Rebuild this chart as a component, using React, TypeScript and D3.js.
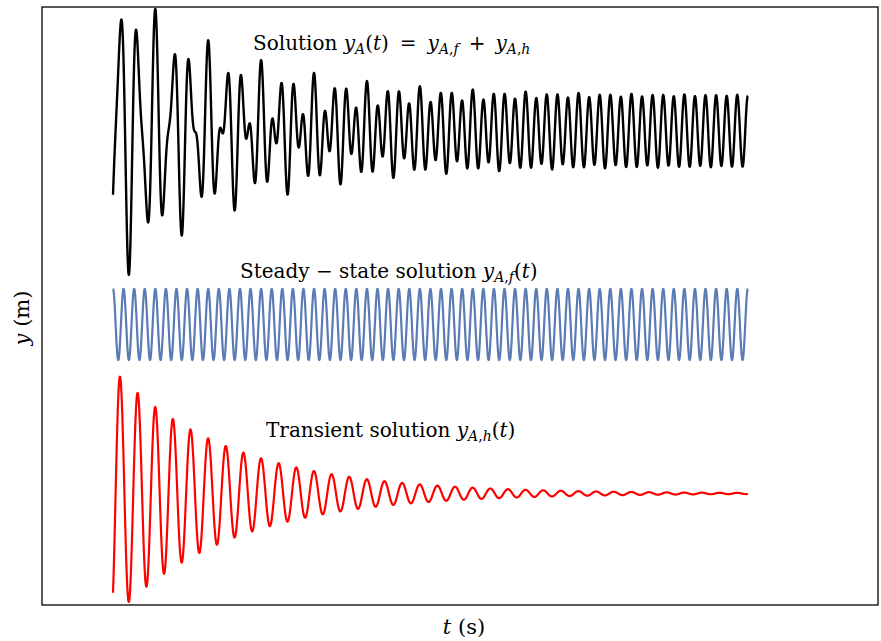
import React from "react";
import * as d3 from "d3";

// ---- data ----
const timeRange = [0, 60]; // s
const forcedAmplitude = [1.0]; // steady-state amplitude (m)
const forcedFrequency = [1.0]; // Hz, 60 cycles over the window
const forcedPhase = [0];
const transientAmplitude = [3.49];
const transientFrequency = [0.6]; // Hz, damped natural frequency
const transientDecay = [0.09]; // 1/s
const transientPhase = [2.5]; // rad
const curveOffsets = [5.45, 0, -4.76]; // vertical offsets: total, steady, transient
const xDomain = [-6.71, 72.3];
const yDomain = [-7.9, 8.94];

const W = 881;
const H = 641;
const plot = { left: 42, top: 7, right: 878, bottom: 605 };

const tSamples = d3.range(timeRange[0], timeRange[1] + 1e-9, 0.005);

function steady(t: number) {
  return forcedAmplitude[0] * Math.cos(2 * Math.PI * forcedFrequency[0] * t - forcedPhase[0]);
}
function transient(t: number) {
  return (
    transientAmplitude[0] *
    Math.exp(-transientDecay[0] * t) *
    Math.cos(2 * Math.PI * transientFrequency[0] * t - transientPhase[0])
  );
}

export default function App() {
  const x = d3.scaleLinear().domain(xDomain).range([plot.left, plot.right]);
  const y = d3.scaleLinear().domain(yDomain).range([plot.bottom, plot.top]);

  const mk = (f: (t: number) => number, off: number) =>
    d3
      .line<number>()
      .x((t) => x(t))
      .y((t) => y(f(t) + off))(tSamples) as string;

  const totalPath = mk((t) => steady(t) + transient(t), curveOffsets[0]);
  const steadyPath = mk(steady, curveOffsets[1]);
  const transientPath = mk(transient, curveOffsets[2]);

  const font = "'DejaVu Serif', 'Liberation Serif', serif";
  const fs = 20;
  const sub = 14;

  return (
    <svg
      width={W}
      height={H}
      style={{ position: "absolute", left: 0, top: 0, background: "#fff" }}
      fontFamily={font}
    >
      <rect x={0} y={0} width={W} height={H} fill="#fff" />
      <path d={steadyPath} fill="none" stroke="#5a7bb5" strokeWidth={2.2} />
      <path d={transientPath} fill="none" stroke="#ff0000" strokeWidth={2.2} />
      <path d={totalPath} fill="none" stroke="#000" strokeWidth={2.4} />
      <rect
        x={plot.left}
        y={plot.top}
        width={plot.right - plot.left}
        height={plot.bottom - plot.top}
        fill="none"
        stroke="#000"
        strokeWidth={1.3}
      />
      {/* Labels */}
      <text x={253} y={50} fontSize={fs} fill="#000">
        Solution{" "}
        <tspan fontStyle="italic">y</tspan>
        <tspan fontStyle="italic" fontSize={sub} dy={4}>A</tspan>
        <tspan dy={-4}>(</tspan>
        <tspan fontStyle="italic">t</tspan>
        <tspan>)</tspan>
        <tspan dx={11}>=</tspan>
        <tspan fontStyle="italic" dx={11}>y</tspan>
        <tspan fontSize={sub} dy={4}>
          <tspan fontStyle="italic">A</tspan>,<tspan fontStyle="italic">f</tspan>
        </tspan>
        <tspan dy={-4} dx={10}>+</tspan>
        <tspan fontStyle="italic" dx={10}>y</tspan>
        <tspan fontSize={sub} dy={4}>
          <tspan fontStyle="italic">A</tspan>,<tspan fontStyle="italic">h</tspan>
        </tspan>
      </text>
      <text x={240} y={278} fontSize={fs} fill="#000">
        Steady − state solution{" "}
        <tspan fontStyle="italic">y</tspan>
        <tspan fontSize={sub} dy={4}>
          <tspan fontStyle="italic">A</tspan>,<tspan fontStyle="italic">f</tspan>
        </tspan>
        <tspan dy={-4}>(</tspan>
        <tspan fontStyle="italic">t</tspan>
        <tspan>)</tspan>
      </text>
      <text x={266} y={437} fontSize={fs} fill="#000">
        Transient solution{" "}
        <tspan fontStyle="italic">y</tspan>
        <tspan fontSize={sub} dy={4}>
          <tspan fontStyle="italic">A</tspan>,<tspan fontStyle="italic">h</tspan>
        </tspan>
        <tspan dy={-4}>(</tspan>
        <tspan fontStyle="italic">t</tspan>
        <tspan>)</tspan>
      </text>
      {/* Axis labels */}
      <text x={464} y={634} fontSize={21} textAnchor="middle" fill="#000">
        <tspan fontStyle="italic">t</tspan> (s)
      </text>
      <text
        transform={`translate(29,318) rotate(-90)`}
        fontSize={21}
        textAnchor="middle"
        fill="#000"
      >
        <tspan fontStyle="italic">y</tspan> (m)
      </text>
    </svg>
  );
}
